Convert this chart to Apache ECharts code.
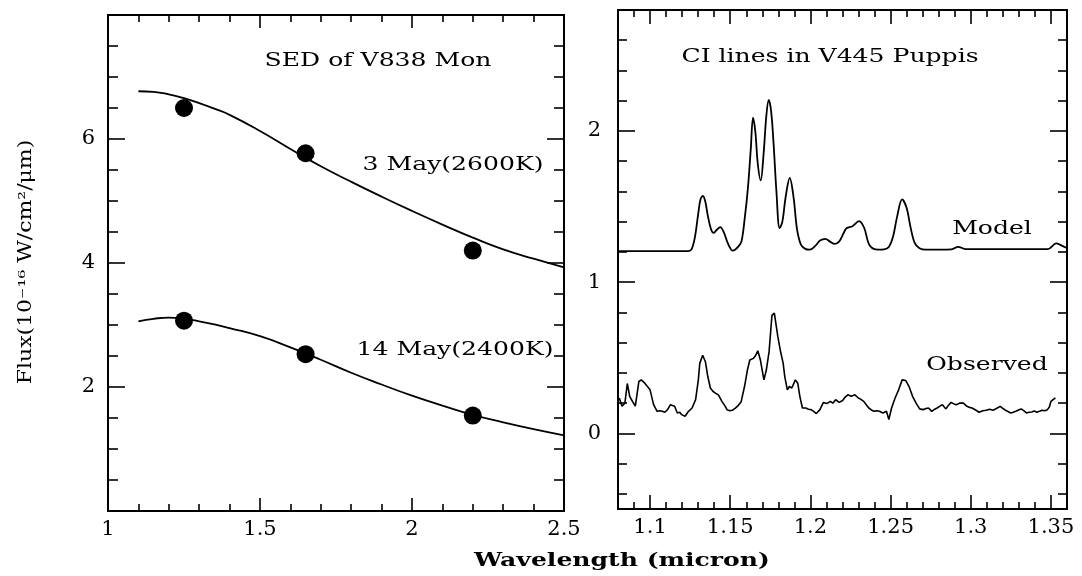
<!DOCTYPE html>
<html><head><meta charset="utf-8">
<script src="https://cdn.jsdelivr.net/npm/echarts@6/dist/echarts.min.js"></script>
<style>html,body{margin:0;padding:0;background:#fff}#c{width:1082px;height:576px}</style>
</head><body><div id="c"></div>
<script>
// ---------- Left panel: SED of V838 Mon ----------
const sedWave  = [1.10,1.15,1.20,1.25,1.30,1.35,1.40,1.50,1.60,1.70,1.80,1.90,2.00,2.10,2.20,2.30,2.40,2.50];
const may3Fit  = [6.77,6.76,6.72,6.66,6.58,6.49,6.39,6.13,5.84,5.56,5.31,5.07,4.84,4.62,4.41,4.22,4.07,3.93];
const may14Fit = [3.06,3.10,3.12,3.10,3.06,3.01,2.95,2.82,2.64,2.44,2.23,2.04,1.86,1.70,1.55,1.43,1.32,1.22];
const bandWave = [1.25, 1.65, 2.20];
const may3Obs  = [6.50, 5.77, 4.20];
const may14Obs = [3.07, 2.53, 1.54];

// ---------- Right panel: CI lines in V445 Puppis ----------
const modelWave = [1.080,1.120,1.124,1.126,1.128,1.130,1.1315,1.133,1.1345,1.136,1.138,1.1396,1.1415,1.1438,1.146,1.148,1.150,1.1513,1.153,1.155,1.157,1.159,1.161,1.1628,1.1642,1.1656,1.1672,1.1690,1.1708,1.1725,1.1740,1.1755,1.177,1.1788,1.1808,1.1825,1.1845,1.1871,1.1895,1.1916,1.194,1.1965,1.1996,1.203,1.206,1.2093,1.212,1.2152,1.218,1.2205,1.2225,1.2262,1.2303,1.2335,1.237,1.2422,1.246,1.249,1.2515,1.254,1.2572,1.260,1.2625,1.265,1.268,1.272,1.288,1.2921,1.297,1.348,1.3533,1.358,1.360];
const modelFlux = [1.205,1.205,1.205,1.22,1.30,1.45,1.55,1.57,1.53,1.44,1.35,1.326,1.345,1.364,1.33,1.27,1.225,1.209,1.215,1.235,1.27,1.42,1.62,1.88,2.088,2.0,1.78,1.673,1.85,2.1,2.205,2.13,1.92,1.60,1.357,1.40,1.56,1.689,1.56,1.353,1.25,1.222,1.215,1.24,1.275,1.286,1.27,1.253,1.27,1.32,1.357,1.37,1.404,1.36,1.242,1.215,1.217,1.235,1.30,1.43,1.547,1.49,1.36,1.26,1.225,1.215,1.217,1.234,1.218,1.218,1.256,1.235,1.225];

const obsWave = [1.0808,1.0825,1.0843,1.0858,1.0873,1.0891,1.0908,1.0930,1.0945,1.0967,1.0978,1.1000,1.1022,1.1044,1.1060,1.1076,1.1092,1.1109,1.1127,1.1153,1.1170,1.1185,1.1197,1.1208,1.1218,1.1240,1.1262,1.1284,1.1301,1.1310,1.1328,1.1345,1.1360,1.1376,1.1393,1.1410,1.1426,1.1448,1.1465,1.1480,1.1497,1.1513,1.1530,1.1546,1.1568,1.1589,1.1607,1.1622,1.1634,1.1644,1.1659,1.1672,1.1688,1.1710,1.1725,1.1742,1.1760,1.1775,1.1786,1.1797,1.1812,1.1830,1.1840,1.1856,1.1869,1.1884,1.1906,1.1921,1.1934,1.1950,1.1971,1.1988,1.2004,1.2020,1.2037,1.2059,1.2081,1.2102,1.2124,1.2140,1.2157,1.2179,1.2201,1.2217,1.2233,1.2255,1.2277,1.2299,1.2315,1.2332,1.2348,1.2364,1.2380,1.2397,1.2413,1.2430,1.2452,1.2474,1.2489,1.2506,1.2528,1.2550,1.2572,1.2594,1.2615,1.2637,1.2659,1.2681,1.2703,1.2720,1.2736,1.2757,1.2775,1.2790,1.2808,1.2823,1.2845,1.2860,1.2877,1.2895,1.2910,1.2930,1.2954,1.2976,1.2992,1.3008,1.3030,1.3052,1.3075,1.3096,1.3118,1.3139,1.3160,1.3183,1.3200,1.3216,1.3232,1.3249,1.3265,1.3281,1.3298,1.3314,1.3330,1.3347,1.3363,1.3380,1.3396,1.3412,1.3428,1.3445,1.3462,1.3478,1.3490,1.3500,1.3515,1.3528];
const obsFlux = [0.234,0.180,0.200,0.330,0.245,0.210,0.180,0.343,0.354,0.332,0.343,0.288,0.190,0.146,0.150,0.146,0.140,0.157,0.190,0.180,0.135,0.140,0.124,0.130,0.114,0.146,0.168,0.223,0.354,0.463,0.517,0.474,0.376,0.300,0.277,0.265,0.255,0.212,0.185,0.157,0.150,0.153,0.165,0.180,0.210,0.310,0.419,0.485,0.480,0.496,0.517,0.546,0.485,0.354,0.419,0.539,0.780,0.795,0.790,0.638,0.550,0.463,0.376,0.288,0.310,0.300,0.354,0.332,0.245,0.168,0.168,0.160,0.157,0.145,0.131,0.157,0.205,0.197,0.212,0.200,0.223,0.205,0.218,0.240,0.255,0.245,0.255,0.234,0.225,0.212,0.190,0.168,0.155,0.146,0.150,0.146,0.135,0.146,0.092,0.168,0.234,0.288,0.354,0.350,0.310,0.245,0.200,0.162,0.157,0.165,0.168,0.146,0.160,0.168,0.180,0.190,0.162,0.185,0.205,0.195,0.190,0.200,0.200,0.179,0.172,0.168,0.155,0.140,0.150,0.153,0.160,0.153,0.165,0.179,0.165,0.153,0.145,0.135,0.140,0.146,0.155,0.162,0.150,0.135,0.140,0.142,0.148,0.140,0.146,0.153,0.150,0.157,0.175,0.212,0.225,0.234];

// ---------- Tick positions / labels ----------
const leftXMajor  = [1, 1.5, 2, 2.5];
const leftXMinor  = [1.1,1.2,1.3,1.4,1.6,1.7,1.8,1.9,2.1,2.2,2.3,2.4];
const leftXLabels = [1, 1.5, 2, 2.5];
const leftYMajor  = [2, 4, 6];
const leftYMinor  = [0.5,1,1.5,2.5,3,3.5,4.5,5,5.5,6.5,7,7.5];
const leftYLabels = [2, 4, 6];
const rightXMajor  = [1.1,1.15,1.2,1.25,1.3,1.35];
const rightXMinor  = [1.09,1.11,1.12,1.13,1.14,1.16,1.17,1.18,1.19,1.21,1.22,1.23,1.24,1.26,1.27,1.28,1.29,1.31,1.32,1.33,1.34];
const rightXLabels = [1.1,1.15,1.2,1.25,1.3,1.35];
const rightYMajor  = [0, 1, 2];
const rightYMinor  = [-0.4,-0.2,0.2,0.4,0.6,0.8,1.2,1.4,1.6,1.8,2.2,2.4,2.6];
const rightYLabels = [0, 1, 2];

const FONT = 'DejaVu Serif';

// Hidden helper y-axes (indices 8..11) whose zero sits on the bottom / top edge of each panel,
// so that the x-axes can be anchored there with axisLine.onZero.
const ANCHOR = { 0: { bottom: 8, top: 9 }, 1: { bottom: 10, top: 11 } };

function makeX(gridIndex, min, max, majors, minors, labels, majorLen, minorLen) {
  const out = [];
  ['bottom', 'top'].forEach((pos, si) => {
    [[majors, majorLen], [minors, minorLen]].forEach(([vals, len], ti) => {
      const main = si === 0 && ti === 0;
      out.push({
        type: 'value', gridIndex, position: pos, min, max,
        axisLine: { show: true, onZero: true, onZeroAxisIndex: ANCHOR[gridIndex][pos],
                    lineStyle: { color: '#000', width: 2 } },
        splitLine: { show: false },
        axisTick: { show: true, inside: true, length: len, customValues: vals,
                    lineStyle: { color: '#000', width: 1.6 } },
        axisLabel: main ? { show: true, customValues: labels, color: '#000',
                            fontFamily: FONT, fontSize: 21, formatter: v => String(v) }
                        : { show: false }
      });
    });
  });
  return out;
}
function makeY(gridIndex, min, max, majors, minors, labels, majorLen, minorLen, margin) {
  const out = [];
  ['left', 'right'].forEach((pos, si) => {
    [[majors, majorLen], [minors, minorLen]].forEach(([vals, len], ti) => {
      const main = si === 0 && ti === 0;
      out.push({
        type: 'value', gridIndex, position: pos, min, max,
        axisLine: { show: true, onZero: false, lineStyle: { color: '#000', width: 2 } },
        splitLine: { show: false },
        axisTick: { show: true, inside: true, length: len, customValues: vals,
                    lineStyle: { color: '#000', width: 1.6 } },
        axisLabel: main ? { show: true, customValues: labels, margin, color: '#000',
                            fontFamily: FONT, fontSize: 21, formatter: v => String(v) }
                        : { show: false }
      });
    });
  });
  return out;
}
function anchorY(gridIndex, min, max) {
  return { type: 'value', gridIndex, min, max, show: false,
           axisLine: { show: false, onZero: false }, axisTick: { show: false },
           axisLabel: { show: false }, splitLine: { show: false } };
}

const xAxes = [].concat(
  makeX(0, 1, 2.5, leftXMajor, leftXMinor, leftXLabels, 13, 7),
  makeX(1, 1.08, 1.36, rightXMajor, rightXMinor, rightXLabels, 14, 7)
);
const yAxes = [].concat(
  makeY(0, 0, 8, leftYMajor, leftYMinor, leftYLabels, 17, 10, 13),
  makeY(1, -0.5, 2.8, rightYMajor, rightYMinor, rightYLabels, 17, 9, 17),
  [anchorY(0, 0, 1), anchorY(0, -1, 0), anchorY(1, 0, 1), anchorY(1, -1, 0)]
);

function txt(text, x, y, opts) {
  opts = opts || {};
  return {
    type: 'text', x, y, rotation: opts.rot || 0, scaleX: opts.sx || 1.32, silent: true,
    style: { text, fill: '#000', fontFamily: FONT, fontSize: opts.fs || 19,
             fontWeight: opts.fw || 'normal',
             textAlign: 'center', textVerticalAlign: 'middle', align: 'center', verticalAlign: 'middle' }
  };
}

const lineBase = { type: 'line', showSymbol: false, symbol: 'none' };

const chart = echarts.init(document.getElementById('c'));
chart.setOption({
  animation: false,
  grid: [
    { left: 108, top: 15, width: 456, height: 496 },
    { left: 618, top: 10, width: 449, height: 499 }
  ],
  xAxis: xAxes,
  yAxis: yAxes,
  series: [
    Object.assign({}, lineBase, { xAxisIndex: 0, yAxisIndex: 0, smooth: true,
      data: sedWave.map((w, i) => [w, may3Fit[i]]), lineStyle: { color: '#000', width: 1.8 } }),
    Object.assign({}, lineBase, { xAxisIndex: 0, yAxisIndex: 0, smooth: true,
      data: sedWave.map((w, i) => [w, may14Fit[i]]), lineStyle: { color: '#000', width: 1.8 } }),
    { type: 'scatter', xAxisIndex: 0, yAxisIndex: 0, symbolSize: 18, itemStyle: { color: '#000', opacity: 1 },
      data: bandWave.map((w, i) => [w, may3Obs[i]]) },
    { type: 'scatter', xAxisIndex: 0, yAxisIndex: 0, symbolSize: 18, itemStyle: { color: '#000', opacity: 1 },
      data: bandWave.map((w, i) => [w, may14Obs[i]]) },
    Object.assign({}, lineBase, { xAxisIndex: 4, yAxisIndex: 4, smooth: 0.35,
      data: modelWave.map((w, i) => [w, modelFlux[i]]), lineStyle: { color: '#000', width: 1.8 } }),
    Object.assign({}, lineBase, { xAxisIndex: 4, yAxisIndex: 4, smooth: false,
      data: obsWave.map((w, i) => [w, obsFlux[i]]), lineStyle: { color: '#000', width: 1.6 } })
  ],
  graphic: [
    txt('SED of V838 Mon', 378, 61),
    txt('3 May(2600K)', 453, 165),
    txt('14 May(2400K)', 455, 350),
    txt('CI lines in V445 Puppis', 830, 57),
    txt('Model', 992, 229),
    txt('Observed', 987, 365),
    txt('Wavelength (micron)', 622, 561, { fw: 'bold' }),
    txt('Flux(10\u207B\u00B9\u2076 W/cm\u00B2/\u03BCm)', 26, 262, { rot: Math.PI / 2, fs: 18, sx: 1.22 })
  ]
});
</script>
</body></html>
